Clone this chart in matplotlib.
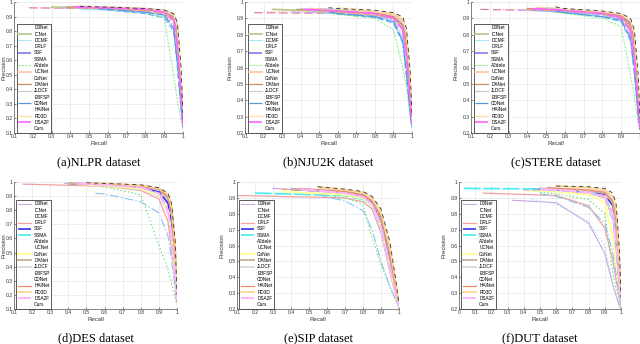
import matplotlib
matplotlib.use("Agg")
import matplotlib.pyplot as plt
from matplotlib.ticker import MultipleLocator, FuncFormatter

plt.rcParams['font.family'] = ['Liberation Sans', 'DejaVu Sans']
plt.rcParams['lines.scale_dashes'] = False

methods = ['D3Net', 'ICNet', 'DCMF', 'DRLF', 'SSF', 'SSMA', 'A2dele', 'UCNet', 'CoNet',
           'DANet', 'JLDCF', 'EBFSP', 'CDNet', 'HAINet', 'RD3D', 'DSA2F', 'Ours']

# each row: precision at the start recall, then precision at the grid recalls
nlpr_grid = [0.6, 0.8, 0.9, 0.95, 0.97, 0.99, 1.0]
nlpr_start = [0.18, 0.30, 0.45, 0.55, 0.40, 0.20, 0.50, 0.42, 0.35, 0.38, 0.45, 0.40, 0.55, 0.45, 0.50, 0.42, 0.45]
nlpr_prec = [
    [0.96, 0.955, 0.94, 0.92, 0.87, 0.72, 0.35, 0.14],
    [0.965, 0.96, 0.95, 0.93, 0.89, 0.78, 0.40, 0.15],
    [0.95, 0.945, 0.92, 0.90, 0.82, 0.62, 0.30, 0.13],
    [0.95, 0.945, 0.92, 0.89, 0.80, 0.55, 0.25, 0.13],
    [0.965, 0.96, 0.95, 0.935, 0.90, 0.78, 0.38, 0.14],
    [0.96, 0.955, 0.94, 0.92, 0.86, 0.68, 0.30, 0.14],
    [0.955, 0.95, 0.93, 0.89, 0.50, 0.32, 0.18, 0.13],
    [0.97, 0.965, 0.955, 0.94, 0.91, 0.82, 0.45, 0.16],
    [0.96, 0.95, 0.93, 0.91, 0.84, 0.65, 0.30, 0.14],
    [0.965, 0.96, 0.95, 0.935, 0.90, 0.80, 0.42, 0.15],
    [0.97, 0.965, 0.955, 0.945, 0.92, 0.85, 0.48, 0.17],
    [0.96, 0.955, 0.94, 0.925, 0.88, 0.74, 0.36, 0.14],
    [0.955, 0.95, 0.93, 0.91, 0.82, 0.58, 0.28, 0.14],
    [0.965, 0.96, 0.95, 0.935, 0.90, 0.80, 0.44, 0.16],
    [0.97, 0.965, 0.955, 0.94, 0.91, 0.83, 0.50, 0.18],
    [0.965, 0.96, 0.95, 0.93, 0.88, 0.70, 0.35, 0.15],
    [0.97, 0.965, 0.955, 0.945, 0.92, 0.86, 0.55, 0.20],
]

nju_grid = [0.6, 0.8, 0.9, 0.95, 0.97, 0.99, 1.0]
nju_start = [0.15, 0.25, 0.45, 0.55, 0.40, 0.20, 0.50, 0.45, 0.35, 0.38, 0.50, 0.40, 0.55, 0.45, 0.60, 0.42, 0.55]
nju_prec = [
    [0.935, 0.93, 0.915, 0.90, 0.85, 0.72, 0.42, 0.24],
    [0.955, 0.94, 0.92, 0.90, 0.84, 0.70, 0.40, 0.24],
    [0.94, 0.93, 0.91, 0.88, 0.78, 0.60, 0.35, 0.23],
    [0.935, 0.925, 0.905, 0.87, 0.75, 0.55, 0.32, 0.23],
    [0.955, 0.945, 0.93, 0.91, 0.86, 0.74, 0.45, 0.25],
    [0.94, 0.935, 0.92, 0.90, 0.84, 0.68, 0.38, 0.24],
    [0.935, 0.925, 0.90, 0.83, 0.60, 0.48, 0.30, 0.23],
    [0.96, 0.95, 0.94, 0.92, 0.88, 0.78, 0.50, 0.26],
    [0.94, 0.93, 0.915, 0.89, 0.80, 0.62, 0.36, 0.24],
    [0.955, 0.945, 0.93, 0.91, 0.86, 0.76, 0.48, 0.26],
    [0.96, 0.955, 0.945, 0.93, 0.89, 0.80, 0.52, 0.27],
    [0.95, 0.94, 0.925, 0.90, 0.84, 0.72, 0.44, 0.25],
    [0.94, 0.93, 0.91, 0.88, 0.76, 0.56, 0.33, 0.23],
    [0.955, 0.945, 0.93, 0.91, 0.86, 0.76, 0.47, 0.26],
    [0.965, 0.955, 0.945, 0.93, 0.90, 0.82, 0.55, 0.28],
    [0.955, 0.945, 0.93, 0.90, 0.83, 0.68, 0.40, 0.25],
    [0.965, 0.96, 0.95, 0.935, 0.91, 0.84, 0.58, 0.30],
]

stere_grid = [0.6, 0.8, 0.9, 0.95, 0.97, 0.99, 1.0]
stere_start = [0.15, 0.40, 0.45, 0.50, 0.40, 0.25, 0.50, 0.45, 0.35, 0.40, 0.50, 0.40, 0.55, 0.45, 0.55, 0.42, 0.55]
stere_prec = [
    [0.955, 0.945, 0.925, 0.90, 0.84, 0.70, 0.38, 0.22],
    [0.955, 0.945, 0.925, 0.905, 0.85, 0.72, 0.40, 0.23],
    [0.945, 0.935, 0.91, 0.88, 0.78, 0.60, 0.33, 0.22],
    [0.945, 0.935, 0.91, 0.88, 0.76, 0.56, 0.30, 0.22],
    [0.955, 0.945, 0.93, 0.91, 0.86, 0.74, 0.42, 0.23],
    [0.955, 0.945, 0.925, 0.90, 0.84, 0.68, 0.36, 0.22],
    [0.945, 0.93, 0.90, 0.85, 0.55, 0.42, 0.26, 0.21],
    [0.965, 0.955, 0.94, 0.92, 0.88, 0.78, 0.48, 0.25],
    [0.95, 0.94, 0.92, 0.89, 0.80, 0.62, 0.34, 0.22],
    [0.96, 0.95, 0.935, 0.915, 0.87, 0.76, 0.45, 0.24],
    [0.965, 0.955, 0.94, 0.925, 0.89, 0.80, 0.50, 0.26],
    [0.955, 0.945, 0.93, 0.91, 0.85, 0.72, 0.42, 0.23],
    [0.945, 0.935, 0.91, 0.89, 0.78, 0.58, 0.32, 0.22],
    [0.96, 0.95, 0.935, 0.915, 0.87, 0.76, 0.46, 0.24],
    [0.97, 0.955, 0.94, 0.925, 0.89, 0.80, 0.52, 0.27],
    [0.96, 0.95, 0.93, 0.905, 0.82, 0.66, 0.38, 0.23],
    [0.97, 0.96, 0.945, 0.93, 0.90, 0.83, 0.56, 0.29],
]

des_grid = [0.6, 0.8, 0.9, 0.95, 0.97, 0.99, 1.0]
des_start = [0.38, 0.40, 0.45, 0.15, 0.40, 0.50, 0.55, 0.45, 0.45, 0.40, 0.50, 0.45, 0.55, 0.45, 0.50, 0.45, 0.50]
des_prec = [
    [0.99, 0.98, 0.96, 0.93, 0.86, 0.74, 0.42, 0.15],
    [0.99, 0.985, 0.965, 0.94, 0.88, 0.76, 0.45, 0.15],
    [0.985, 0.975, 0.95, 0.90, 0.78, 0.60, 0.32, 0.14],
    [0.985, 0.97, 0.94, 0.88, 0.72, 0.52, 0.28, 0.14],
    [0.99, 0.98, 0.96, 0.93, 0.85, 0.70, 0.38, 0.15],
    [0.985, 0.975, 0.95, 0.91, 0.80, 0.62, 0.34, 0.14],
    [0.98, 0.965, 0.91, 0.55, 0.38, 0.28, 0.18, 0.13],
    [0.995, 0.985, 0.97, 0.95, 0.90, 0.80, 0.50, 0.16],
    [0.985, 0.975, 0.95, 0.91, 0.80, 0.62, 0.32, 0.14],
    [0.99, 0.985, 0.97, 0.95, 0.90, 0.80, 0.48, 0.16],
    [0.995, 0.99, 0.975, 0.955, 0.91, 0.82, 0.52, 0.17],
    [0.99, 0.98, 0.965, 0.94, 0.88, 0.76, 0.44, 0.15],
    [0.92, 0.915, 0.86, 0.78, 0.62, 0.45, 0.24, 0.13],
    [0.99, 0.985, 0.97, 0.95, 0.89, 0.78, 0.46, 0.16],
    [0.995, 0.99, 0.975, 0.955, 0.91, 0.83, 0.55, 0.18],
    [0.99, 0.98, 0.96, 0.92, 0.80, 0.62, 0.34, 0.15],
    [0.995, 0.99, 0.98, 0.96, 0.92, 0.85, 0.58, 0.20],
]

sip_grid = [0.7, 0.8, 0.85, 0.9, 0.95, 0.98, 1.0]
sip_start = [0.30, 0.35, 0.45, 0.10, 0.40, 0.20, 0.50, 0.55, 0.35, 0.40, 0.55, 0.45, 0.55, 0.45, 0.55, 0.45, 0.55]
sip_prec = [
    [0.96, 0.93, 0.91, 0.87, 0.76, 0.50, 0.32, 0.21],
    [0.955, 0.93, 0.905, 0.86, 0.74, 0.48, 0.31, 0.21],
    [0.95, 0.925, 0.90, 0.85, 0.70, 0.45, 0.29, 0.21],
    [0.915, 0.90, 0.875, 0.83, 0.68, 0.43, 0.29, 0.21],
    [0.955, 0.935, 0.915, 0.875, 0.77, 0.52, 0.33, 0.21],
    [0.93, 0.915, 0.89, 0.85, 0.70, 0.45, 0.30, 0.21],
    [0.93, 0.90, 0.86, 0.65, 0.48, 0.34, 0.26, 0.21],
    [0.97, 0.945, 0.93, 0.89, 0.79, 0.55, 0.35, 0.22],
    [0.94, 0.92, 0.895, 0.855, 0.71, 0.46, 0.30, 0.21],
    [0.955, 0.935, 0.915, 0.88, 0.78, 0.54, 0.34, 0.22],
    [0.965, 0.945, 0.93, 0.895, 0.80, 0.57, 0.37, 0.22],
    [0.95, 0.93, 0.91, 0.87, 0.75, 0.50, 0.32, 0.21],
    [0.92, 0.88, 0.82, 0.70, 0.50, 0.34, 0.26, 0.21],
    [0.96, 0.94, 0.92, 0.88, 0.78, 0.54, 0.34, 0.22],
    [0.97, 0.95, 0.935, 0.90, 0.81, 0.58, 0.38, 0.23],
    [0.955, 0.93, 0.905, 0.86, 0.71, 0.46, 0.30, 0.21],
    [0.97, 0.955, 0.94, 0.91, 0.83, 0.62, 0.40, 0.23],
]

dut_grid = [0.6, 0.8, 0.9, 0.95, 0.97, 0.99, 1.0]
dut_start = [0.33, 0.40, 0.45, 0.15, 0.45, 0.03, 0.50, 0.55, 0.45, 0.50, 0.55, 0.45, 0.50, 0.55, 0.60, 0.50, 0.60]
dut_prec = [
    [0.885, 0.87, 0.74, 0.55, 0.35, 0.28, 0.22, 0.20],
    [0.95, 0.945, 0.93, 0.90, 0.78, 0.60, 0.35, 0.22],
    [0.89, 0.86, 0.75, 0.60, 0.35, 0.28, 0.23, 0.21],
    [0.93, 0.915, 0.85, 0.71, 0.50, 0.38, 0.27, 0.21],
    [0.955, 0.95, 0.94, 0.92, 0.85, 0.70, 0.40, 0.23],
    [0.96, 0.955, 0.94, 0.91, 0.80, 0.62, 0.36, 0.22],
    [0.935, 0.925, 0.89, 0.80, 0.42, 0.32, 0.25, 0.21],
    [0.965, 0.96, 0.95, 0.935, 0.88, 0.75, 0.45, 0.24],
    [0.945, 0.94, 0.92, 0.87, 0.65, 0.45, 0.30, 0.22],
    [0.96, 0.955, 0.945, 0.93, 0.87, 0.74, 0.44, 0.23],
    [0.965, 0.96, 0.95, 0.94, 0.89, 0.78, 0.48, 0.24],
    [0.95, 0.945, 0.93, 0.90, 0.75, 0.55, 0.33, 0.22],
    [0.925, 0.91, 0.84, 0.74, 0.55, 0.42, 0.28, 0.21],
    [0.965, 0.96, 0.95, 0.935, 0.88, 0.76, 0.46, 0.24],
    [0.975, 0.975, 0.965, 0.95, 0.91, 0.82, 0.52, 0.25],
    [0.955, 0.95, 0.935, 0.91, 0.80, 0.62, 0.36, 0.23],
    [0.975, 0.975, 0.97, 0.96, 0.93, 0.86, 0.58, 0.27],
]

# line styles: (color, linestyle, width, shown in legend)
top_styles = [
    ('#e07090', (0, (6, 3)), 0.8, False),
    ('#b8cc90', '-', 1.3, True),
    ('#a8e4f8', '-', 0.7, True),
    ('#6fa8ff', (0, (4, 2)), 0.8, False),
    ('#8888ee', (0, (12, 2)), 1.3, True),
    ('#ff9999', ':', 0.8, False),
    ('#88ee88', (0, (1.5, 1)), 0.7, True),
    ('#ffc8a8', '-', 1.3, True),
    ('#b0b0ff', '-.', 0.7, False),
    ('#c89060', '-', 0.9, True),
    ('#cccccc', '-', 0.9, True),
    ('#ffb060', (0, (4, 2)), 0.8, False),
    ('#5599dd', (0, (12, 2)), 0.9, True),
    ('#ff80c0', ':', 0.8, False),
    ('#ffe0a0', '-', 0.9, True),
    ('#ff66ff', (0, (12, 2)), 1.2, True),
    ('#333333', (0, (3, 2.5)), 0.6, False),
]
bottom_styles = [
    ('#c8a8e0', '-', 0.8, True),
    ('#ff9966', (0, (4, 2)), 0.8, False),
    ('#99ddff', ':', 0.8, False),
    ('#f0a0a0', '-', 0.9, True),
    ('#3333ee', (0, (12, 2)), 1.2, True),
    ('#44eeee', (0, (12, 2)), 1.2, True),
    ('#66dd66', ':', 0.8, False),
    ('#ffbb99', (0, (4, 2)), 0.8, False),
    ('#ffff99', '-', 1.4, True),
    ('#c8b49a', '-', 1.4, True),
    ('#dddddd', '-', 1.4, True),
    ('#aabbff', '-.', 0.7, False),
    ('#88c4f0', '-.', 0.8, False),
    ('#f08866', '-', 0.9, True),
    ('#ffd488', '-', 1.2, True),
    ('#ffb4ff', (0, (12, 2)), 1.4, True),
    ('#333333', (0, (3, 2.5)), 0.6, False),
]

panels = [
    ('(a)NLPR dataset', nlpr_grid, nlpr_start, nlpr_prec, (0.1, 1), (0.1, 1), [14, 2, 183, 133], top_styles),
    ('(b)NJU2K dataset', nju_grid, nju_start, nju_prec, (0.1, 1), (0.2, 1), [245, 2, 412, 133], top_styles),
    ('(c)STERE dataset', stere_grid, stere_start, stere_prec, (0.1, 1), (0.2, 1), [471, 2, 640, 133], top_styles),
    ('(d)DES dataset', des_grid, des_start, des_prec, (0.1, 1), (0.1, 1), [14, 182, 177, 309], bottom_styles),
    ('(e)SIP dataset', sip_grid, sip_start, sip_prec, (0.1, 1), (0.2, 1), [237, 182, 399, 309], bottom_styles),
    ('(f)DUT dataset', dut_grid, dut_start, dut_prec, (0, 1), (0.2, 1), [459, 182, 621, 309], bottom_styles),
]

W, H = 640, 344
fig = plt.figure(figsize=(W / 100, H / 100), dpi=100)
fmt = FuncFormatter(lambda v, _: f"{round(v, 2):g}")

for caption, grid, start, prec, xl, yl, box, styles in panels:
    x0, y0, x1, y1 = box
    ax = fig.add_axes([x0 / W, 1 - y1 / H, (x1 - x0) / W, (y1 - y0) / H])
    for i, m in enumerate(methods):
        r = [start[i]] + [g for g in grid if g > start[i]]
        p = [prec[i][0]] + [v for g, v in zip(grid, prec[i][1:]) if g > start[i]]
        c, ls, lw, _ = styles[i]
        ax.plot(r, p, color=c, ls=ls, lw=lw, label=m)
    ax.set_xlim(*xl)
    ax.set_ylim(*yl)
    ax.xaxis.set_major_locator(MultipleLocator(0.1))
    ax.yaxis.set_major_locator(MultipleLocator(0.1))
    ax.xaxis.set_major_formatter(fmt)
    ax.yaxis.set_major_formatter(fmt)
    ax.grid(True, color='#e6e6e6', lw=0.5)
    ax.set_axisbelow(True)
    for s in ['top', 'right']:
        ax.spines[s].set_visible(False)
    for s in ['left', 'bottom']:
        ax.spines[s].set_color('#555555')
        ax.spines[s].set_linewidth(0.5)
    ax.tick_params(labelsize=3.6, colors='#333333', pad=1.0, length=1.5, width=0.4, direction='in')
    ax.set_xlabel('Recall', fontsize=4.3, color='#333333', labelpad=1.5)
    ax.set_ylabel('Precision', fontsize=4.3, color='#333333')
    lab_x = max(x0 - 12, 6.5)
    ax.yaxis.set_label_coords((lab_x - x0) / (x1 - x0), 0.5)
    leg = ax.legend(loc='lower left', bbox_to_anchor=(0.015, 0), borderaxespad=0, fontsize=3.4,
                    labelspacing=0.28, handlelength=2.8, handletextpad=0.6, borderpad=0.35,
                    fancybox=False, edgecolor='#404040', framealpha=1)
    leg.get_frame().set_linewidth(0.6)
    for ln, st in zip(leg.get_lines(), styles):
        ln.set_visible(st[3])
    fig.text((x0 + x1) / 2 / W, 1 - (y1 + 29) / H, caption, ha='center', va='center',
             fontsize=9, family='Liberation Serif')

fig.savefig('out.png', dpi=100)
